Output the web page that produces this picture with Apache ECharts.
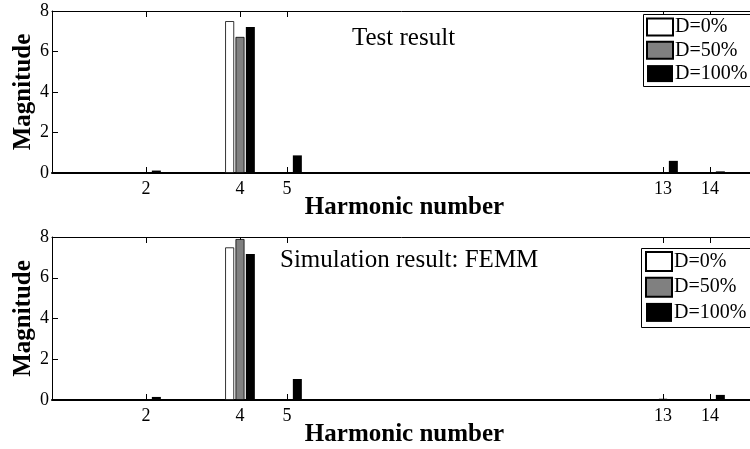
<!DOCTYPE html>
<html>
<head>
<meta charset="utf-8">
<script src="https://cdn.jsdelivr.net/npm/echarts@6/dist/echarts.min.js"></script>
<style>html,body{margin:0;padding:0;background:#fff}#c{width:750px;height:449px}</style>
</head>
<body>
<div id="c"></div>
<script>
// Harmonic categories 0..15 (axis range)
const harmonics = ['0','1','2','3','4','5','6','7','8','9','10','11','12','13','14','15'];
const tickHarmonics = ['2','4','5','13','14'];
const seriesNames = ['D=0%', 'D=50%', 'D=100%'];
const yTicks = [0, 2, 4, 6, 8];

// Test result (index = harmonic number)
const test0   = [null,null,null,null,7.50,null,null,null,null,null,null,null,null,null,null,null];
const test50  = [null,null,null,null,6.72,null,null,null,null,null,null,null,null,null,null,null];
const test100 = [null,null,0.12,null,7.21,0.87,null,null,null,null,null,null,null,0.60,0.08,null];

// Simulation result: FEMM
const sim0   = [null,null,null,null,7.49,null,null,null,null,null,null,null,null,null,null,null];
const sim50  = [null,null,null,null,7.90,null,null,null,null,null,null,null,null,0.06,null,null];
const sim100 = [null,null,0.15,null,7.17,1.03,null,null,null,null,null,null,null,0.05,0.25,null];

const titles = ['Test result', 'Simulation result: FEMM'];

const FONT = 'Liberation Serif';
const colors = ['#ffffff', '#808080', '#000000'];
const showTick = (i, v) => tickHarmonics.indexOf(String(v)) >= 0;

function xAxes(gridIndex, nameGap) {
  return [
    {
      type: 'category', gridIndex, data: harmonics, boundaryGap: false, position: 'bottom',
      axisLine: {onZero: false, lineStyle: {color: '#000', width: 2}},
      axisTick: {inside: true, length: 6, interval: showTick, lineStyle: {color: '#000'}},
      axisLabel: {interval: showTick, color: '#000', fontFamily: FONT, fontSize: 18, margin: 7},
      splitLine: {show: false},
      name: 'Harmonic number', nameLocation: 'middle', nameGap, nameMoveOverlap: false,
      nameTextStyle: {color: '#000', fontFamily: FONT, fontSize: 25, fontWeight: 'bold'}
    },
    {
      type: 'category', gridIndex, data: harmonics, boundaryGap: false, position: 'top',
      axisLine: {onZero: false, lineStyle: {color: '#000', width: 1}},
      axisTick: {inside: true, length: 6, interval: showTick, lineStyle: {color: '#000'}},
      axisLabel: {show: false}, splitLine: {show: false}
    }
  ];
}
function yAxes(gridIndex) {
  return [
    {
      type: 'value', gridIndex, min: yTicks[0], max: yTicks[yTicks.length-1], interval: 2, position: 'left',
      axisLine: {show: true, onZero: false, lineStyle: {color: '#000', width: 1}},
      axisTick: {show: true, inside: true, length: 6, lineStyle: {color: '#000'}},
      axisLabel: {color: '#000', fontFamily: FONT, fontSize: 18, margin: 3},
      splitLine: {show: false},
      name: 'Magnitude', nameLocation: 'middle', nameGap: 16, nameMoveOverlap: false,
      nameTextStyle: {color: '#000', fontFamily: FONT, fontSize: 25, fontWeight: 'bold'}
    },
    {
      type: 'value', gridIndex, min: 0, max: 8, interval: 2, position: 'right',
      axisLine: {show: true, onZero: false, lineStyle: {color: '#000', width: 1}},
      axisTick: {show: true, inside: true, length: 5, lineStyle: {color: '#000'}},
      axisLabel: {show: false}, splitLine: {show: false}
    }
  ];
}
function bars(dataSets, xi, yi) {
  return dataSets.map((d, k) => ({
    type: 'bar', name: seriesNames[k], data: d, xAxisIndex: xi, yAxisIndex: yi,
    barWidth: 9, barGap: '15%',
    itemStyle: {color: colors[k], borderColor: '#000', borderWidth: k === 2 ? 0 : 0.8},
    emphasis: {disabled: true}, animation: false
  }));
}
const legendBase = {
  orient: 'vertical', itemWidth: 26, icon: 'rect', borderWidth: 0, selectedMode: false,
  data: seriesNames, z: 10
};

const chart = echarts.init(document.getElementById('c'), null, {renderer: 'canvas'});
chart.setOption({
  backgroundColor: '#fff',
  animation: false,
  grid: [
    {left: 52, top: 11, width: 705, height: 162, outerBoundsMode: 'none', containLabel: false},
    {left: 52, top: 237, width: 705, height: 163, outerBoundsMode: 'none', containLabel: false}
  ],
  xAxis: [...xAxes(0, 22), ...xAxes(1, 22)],
  yAxis: [...yAxes(0), ...yAxes(1)],
  legend: [
    Object.assign({}, legendBase, {top: 14, left: 643, itemHeight: 17, itemGap: 3.3, padding: [3, 0, 3, 3],
      textStyle: {color: '#000', fontFamily: FONT, fontSize: 20, padding: [0,0,0,-3]}}),
    Object.assign({}, legendBase, {top: 248, left: 641, itemHeight: 19, itemGap: 4.7, padding: [3, 0, 3, 4],
      textStyle: {color: '#000', fontFamily: FONT, fontSize: 20, padding: [0,0,0,-3]}})
  ],
  graphic: [
    {type: 'rect', left: 643, top: 14, z: 5, shape: {width: 130, height: 72}, style: {fill: '#fff', stroke: '#000', lineWidth: 1}},
    {type: 'rect', left: 641, top: 248, z: 5, shape: {width: 130, height: 79}, style: {fill: '#fff', stroke: '#000', lineWidth: 1}},
    {type: 'text', left: 352, top: 26, style: {text: titles[0], font: '25px "Liberation Serif"', fill: '#000'}},
    {type: 'text', left: 280, top: 248, style: {text: titles[1], font: '25px "Liberation Serif"', fill: '#000'}}
  ],
  series: [
    ...bars([test0, test50, test100], 0, 0),
    ...bars([sim0, sim50, sim100], 2, 2)
  ]
});
</script>
</body>
</html>
